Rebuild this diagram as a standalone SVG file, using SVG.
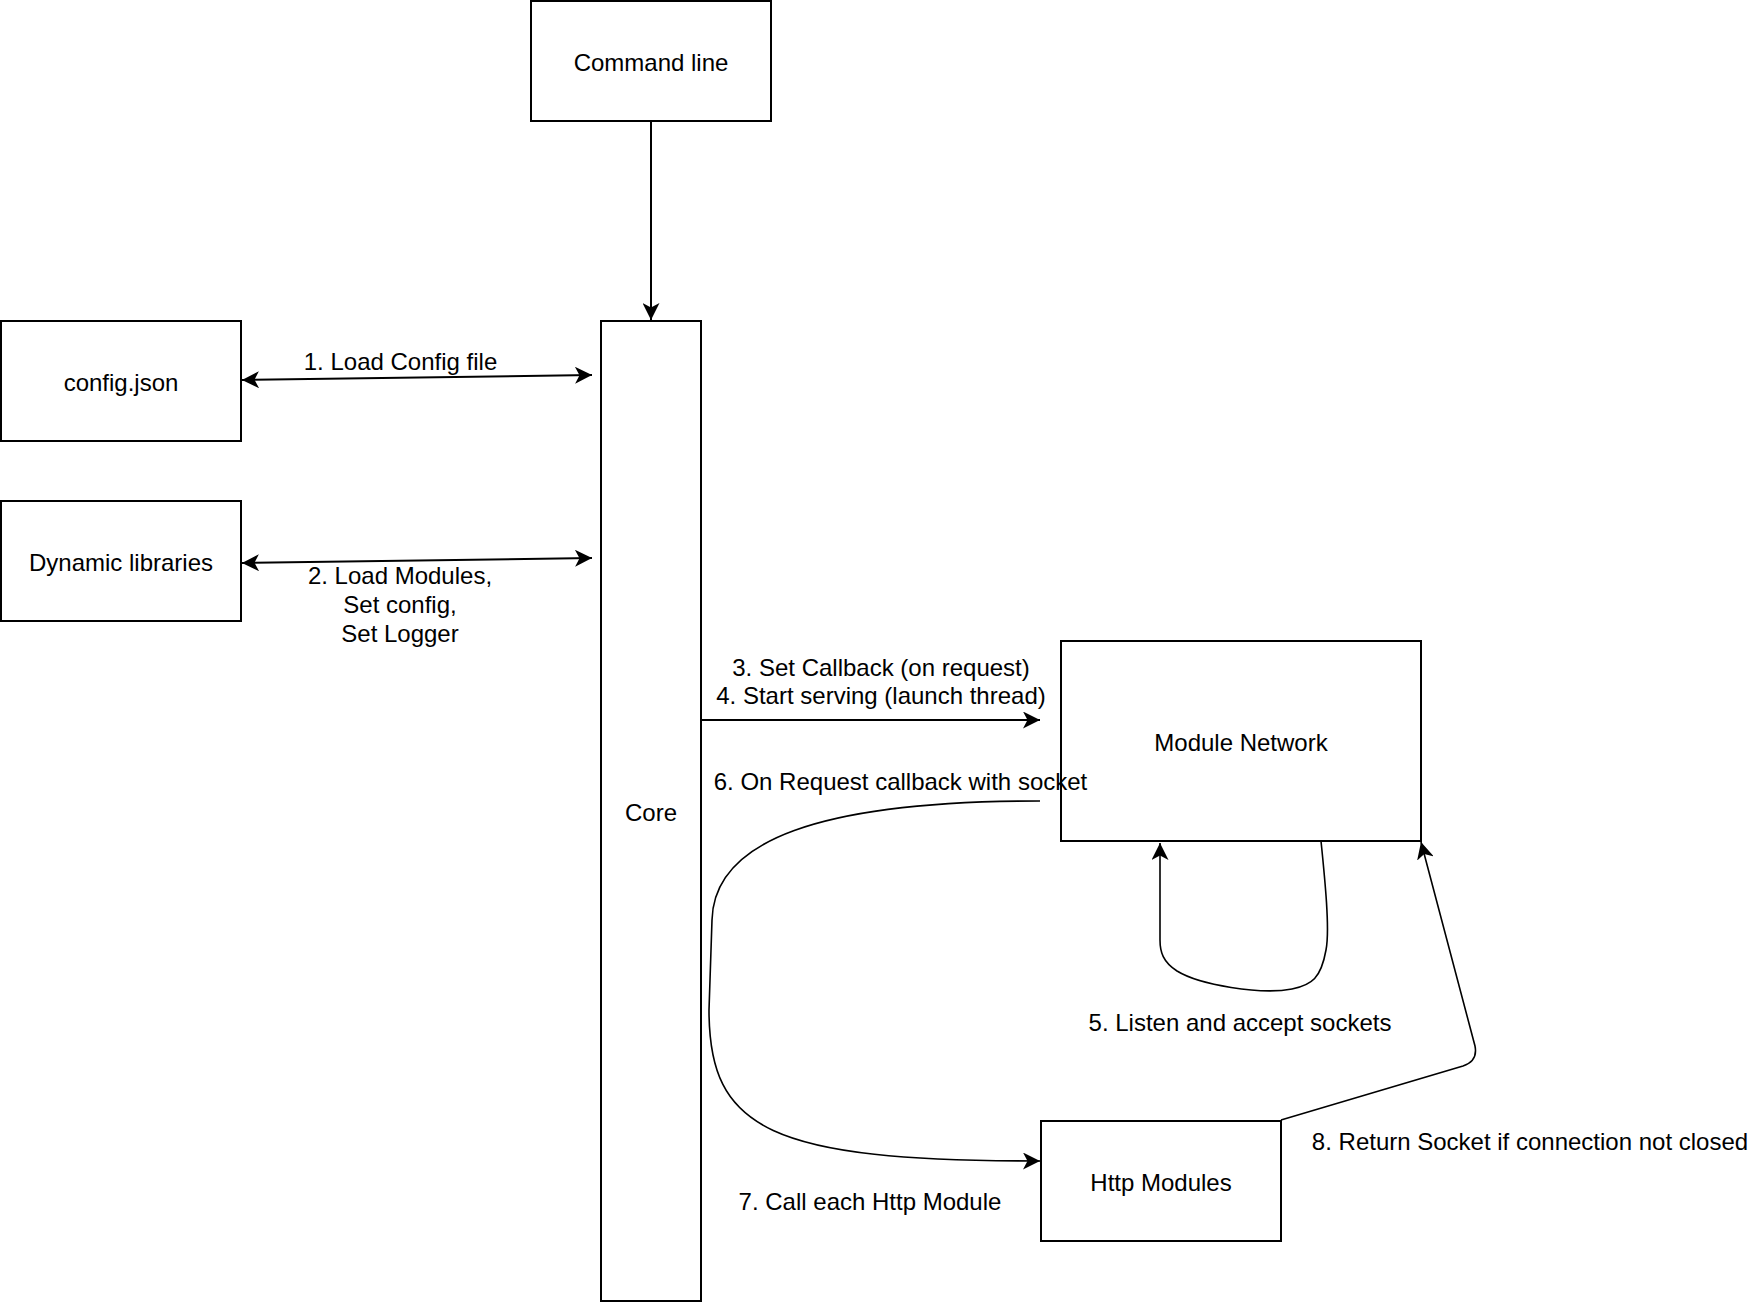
<svg xmlns="http://www.w3.org/2000/svg" width="1762" height="1302" viewBox="0 0 1762 1302">
<style>
.box{fill:#fff;stroke:#000;stroke-width:2}
.t{font-family:"Liberation Sans",Arial,sans-serif;font-size:24px;fill:#000;text-anchor:middle}
.e{fill:none;stroke:#000;stroke-width:2}
.c{fill:none;stroke:#000;stroke-width:1.6}
</style>
<defs>
<marker id="arr" viewBox="0 0 17 17" markerWidth="17" markerHeight="17" refX="17" refY="8.5" markerUnits="userSpaceOnUse" orient="auto-start-reverse">
<path d="M0,0 L17,8.5 L0,17 L4.5,8.5 Z" fill="#000"/>
</marker>
</defs>
<rect width="1762" height="1302" fill="#fff"/>
<g id="connectors">
<path class="e" d="M651,121 L651,320" marker-end="url(#arr)"/>
<path class="e" d="M242,380 L592,375" marker-start="url(#arr)" marker-end="url(#arr)"/>
<path class="e" d="M242,563 L592,558" marker-start="url(#arr)" marker-end="url(#arr)"/>
<path class="e" d="M701,720 L1040,720" marker-end="url(#arr)"/>
<path class="c" d="M1040,801 C820,801 714,840 712,920 L709,1010 C709,1130 770,1161 1040,1161" marker-end="url(#arr)"/>
<path class="c" d="M1321,841 C1325,880 1330,930 1326,950 C1321,978 1312,985 1292,989 C1260,995 1200,985 1177,971 C1163,962 1160,952 1160,940 L1160,843" marker-end="url(#arr)"/>
<path class="c" d="M1281,1120 L1463,1066 Q1478,1061 1475,1046 L1421,842" marker-end="url(#arr)"/>
<text class="t" x="400.5" y="370">1. Load Config file</text>
<text class="t" x="400" y="584">2. Load Modules,</text>
<text class="t" x="400" y="612.8">Set config,</text>
<text class="t" x="400" y="641.6">Set Logger</text>
<text class="t" x="881" y="675.5">3. Set Callback (on request)</text>
<text class="t" x="881" y="704.3">4. Start serving (launch thread)</text>
<text class="t" x="900.5" y="790">6. On Request callback with socket</text>
<text class="t" x="1240" y="1030.5">5. Listen and accept sockets</text>
<text class="t" x="870" y="1210">7. Call each Http Module</text>
<text class="t" x="1530" y="1150">8. Return Socket if connection not closed</text>
</g>
<g id="command-line">
<rect class="box" x="531" y="1" width="240" height="120"/>
<text class="t" x="651" y="70.5">Command line</text>
</g>
<g id="config-json">
<rect class="box" x="1" y="321" width="240" height="120"/>
<text class="t" x="121" y="390.5">config.json</text>
</g>
<g id="dynamic-libraries">
<rect class="box" x="1" y="501" width="240" height="120"/>
<text class="t" x="121" y="570.5">Dynamic libraries</text>
</g>
<g id="core">
<rect class="box" x="601" y="321" width="100" height="980"/>
<text class="t" x="651" y="820.5">Core</text>
</g>
<g id="module-network">
<rect class="box" x="1061" y="641" width="360" height="200" fill-opacity="0"/>
<text class="t" x="1241" y="750.5">Module Network</text>
</g>
<g id="http-modules">
<rect class="box" x="1041" y="1121" width="240" height="120"/>
<text class="t" x="1161" y="1190.5">Http Modules</text>
</g>
</svg>
